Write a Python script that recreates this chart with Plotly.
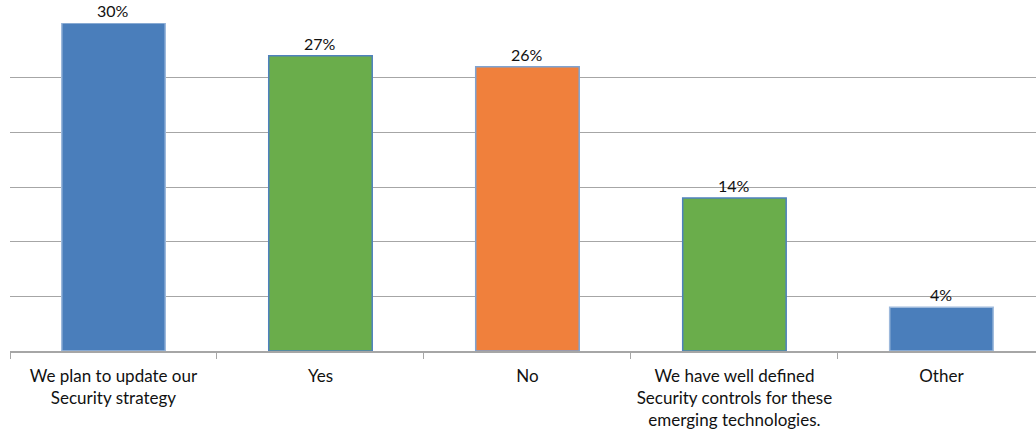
import plotly.graph_objects as go

# Survey responses on emerging-technology security
categories = [
    "We plan to update our<br>Security strategy",
    "Yes",
    "No",
    "We have well defined<br>Security controls for these<br>emerging technologies.",
    "Other",
]
values = [30, 27, 26, 14, 4]
value_labels = ["30%", "27%", "26%", "14%", "4%"]
bar_colors = ["#4A7EBB", "#6AAD4B", "#F0803C", "#6AAD4B", "#4A7EBB"]
edge_colors = ["#9DB9DC", "#4F81BD", "#7FA3D1", "#4F81BD", "#9DB9DC"]

FONT = "Lato"
TEXT = "#111111"

fig = go.Figure(
    go.Bar(
        x=categories,
        y=values,
        width=0.5,
        marker=dict(color=bar_colors, line=dict(color=edge_colors, width=1.5)),
        cliponaxis=False,
    )
)

# value labels above each bar
for cat, val, lab in zip(categories, values, value_labels):
    fig.add_annotation(
        x=cat,
        y=val,
        text=lab,
        showarrow=False,
        yanchor="bottom",
        yshift=1,
        font=dict(family=FONT, size=16, color=TEXT),
    )

fig.update_layout(
    width=1036,
    height=434,
    margin=dict(l=10, r=0, t=23, b=83),
    paper_bgcolor="white",
    plot_bgcolor="white",
    showlegend=False,
    font=dict(family=FONT, size=16, color=TEXT),
    xaxis=dict(
        type="category",
        range=[-0.5, 4.457],
        showgrid=False,
        showline=True,
        linecolor="#A6A6A6",
        linewidth=1.5,
        ticks="outside",
        tickson="boundaries",
        ticklen=6,
        tickcolor="#A6A6A6",
        ticklabelstandoff=9,
        tickfont=dict(family=FONT, size=17, color=TEXT),
    ),
    yaxis=dict(
        range=[0, 30],
        dtick=5,
        showgrid=True,
        gridcolor="#A6A6A6",
        gridwidth=1.2,
        showticklabels=False,
        zeroline=False,
        showline=False,
    ),
)

fig.write_html("out.html")
